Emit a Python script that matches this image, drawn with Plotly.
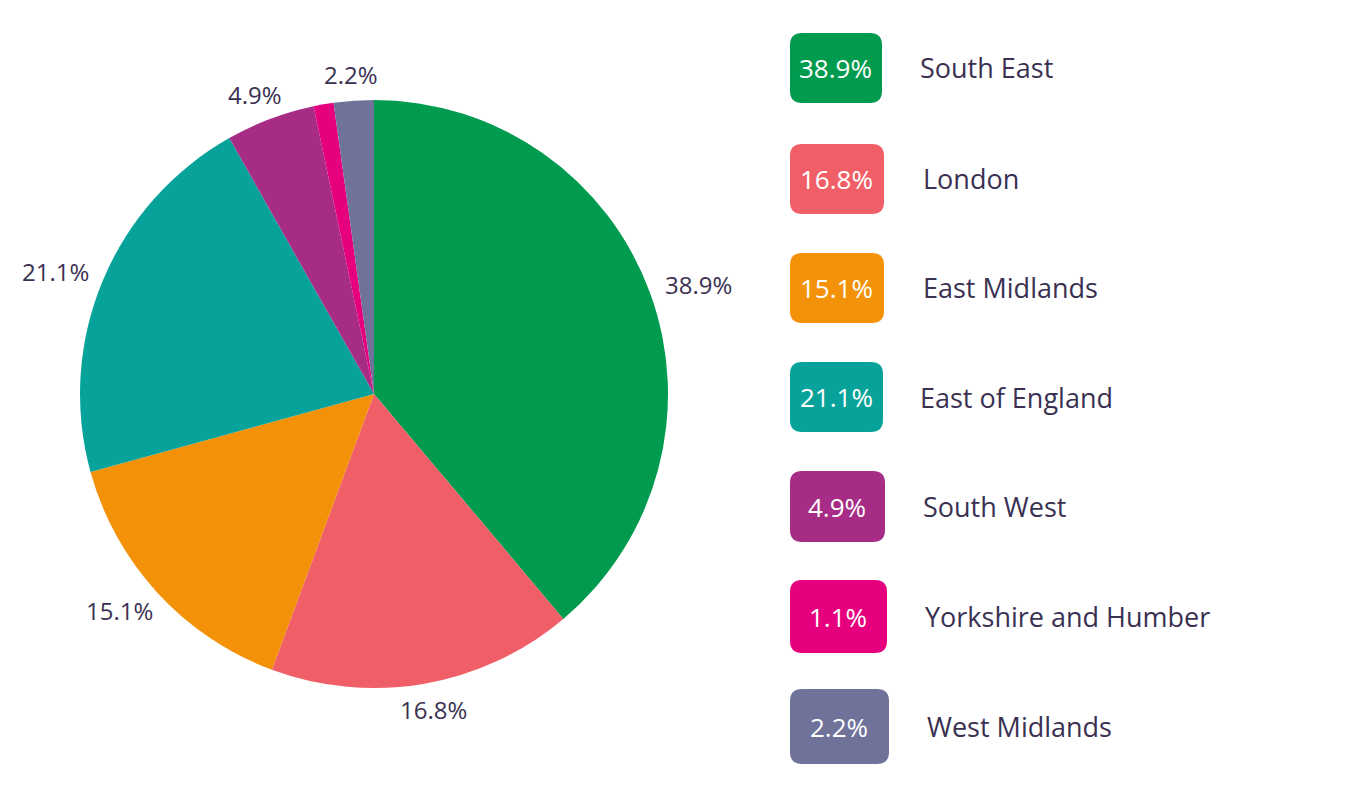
import math
import plotly.graph_objects as go

regions = ["South East", "London", "East Midlands", "East of England",
           "South West", "Yorkshire and Humber", "West Midlands"]
shares = [38.9, 16.8, 15.1, 21.1, 4.9, 1.1, 2.2]
colors = ["#009B4E", "#F05F67", "#F39208", "#07A39B", "#A62C86", "#E6007E", "#6F7299"]
pie_label_hidden = ["Yorkshire and Humber"]

TEXT = "#3A3152"
FONT = "Open Sans"
W, H = 1365, 795
OFF = 8  # page body margin

# pie geometry (screen px)
CX, CY, R = 374, 394, 294


def px(x):
    return (x - OFF) / W


def py(y):
    return 1 - (y - OFF) / H


fig = go.Figure()
fig.add_trace(go.Pie(
    labels=regions, values=shares, sort=False, direction="clockwise", rotation=0,
    marker=dict(colors=colors, line=dict(width=0)),
    textinfo="none",
    hoverinfo="label+percent",
    domain=dict(x=[px(CX - R), px(CX + R)], y=[py(CY + R), py(CY - R)]),
    showlegend=False,
))

shapes = []
annotations = []

# outside percentage labels placed along each slice's mid-angle
total = sum(shares)
cum = 0.0
for r, v in zip(regions, shares):
    mid = (cum + v / 2) / total * 2 * math.pi
    cum += v
    if r in pie_label_hidden:
        continue
    dx, dy = math.sin(mid), -math.cos(mid)
    label = f"{v}%"
    hw = len(label) * 6.8
    hh = 9
    g = R + 17
    x = CX + g * dx + hw * dx
    y = CY + g * dy + hh * dy
    annotations.append(dict(x=px(x), y=py(y), xref="paper", yref="paper", text=label,
                            showarrow=False, xanchor="center", yanchor="middle",
                            font=dict(family=FONT, size=24, color=TEXT)))

# custom legend: rounded boxes with percentage + region names
box_top = [33, 144, 253, 362, 471, 580, 689]
box_w = [92, 94, 94, 93, 95, 97, 99]
box_h = [70, 70, 70, 70, 71, 73, 75]
name_x = [918, 921, 921, 918, 921, 923, 925]
box_x0 = 790
rad = 12

for i, (r, v, c) in enumerate(zip(regions, shares, colors)):
    x0, x1 = box_x0, box_x0 + box_w[i]
    y0, y1 = box_top[i], box_top[i] + box_h[i]
    path = (
        f"M {px(x0 + rad)} {py(y0)} L {px(x1 - rad)} {py(y0)} "
        f"Q {px(x1)} {py(y0)} {px(x1)} {py(y0 + rad)} "
        f"L {px(x1)} {py(y1 - rad)} Q {px(x1)} {py(y1)} {px(x1 - rad)} {py(y1)} "
        f"L {px(x0 + rad)} {py(y1)} Q {px(x0)} {py(y1)} {px(x0)} {py(y1 - rad)} "
        f"L {px(x0)} {py(y0 + rad)} Q {px(x0)} {py(y0)} {px(x0 + rad)} {py(y0)} Z"
    )
    shapes.append(dict(type="path", xref="paper", yref="paper", path=path,
                       fillcolor=c, line=dict(width=0), layer="above"))
    cy = (y0 + y1) / 2
    annotations.append(dict(x=px((x0 + x1) / 2), y=py(cy), xref="paper", yref="paper",
                            text=f"{v}%", showarrow=False, xanchor="center", yanchor="middle",
                            font=dict(family=FONT, size=26, color="white")))
    annotations.append(dict(x=px(name_x[i]), y=py(cy), xref="paper", yref="paper",
                            text=r, showarrow=False, xanchor="left", yanchor="middle",
                            font=dict(family=FONT, size=27, color=TEXT)))

fig.update_layout(
    width=W, height=H, margin=dict(l=0, r=0, t=0, b=0),
    paper_bgcolor="white", plot_bgcolor="white",
    shapes=shapes, annotations=annotations,
)

fig.write_html("out.html")
